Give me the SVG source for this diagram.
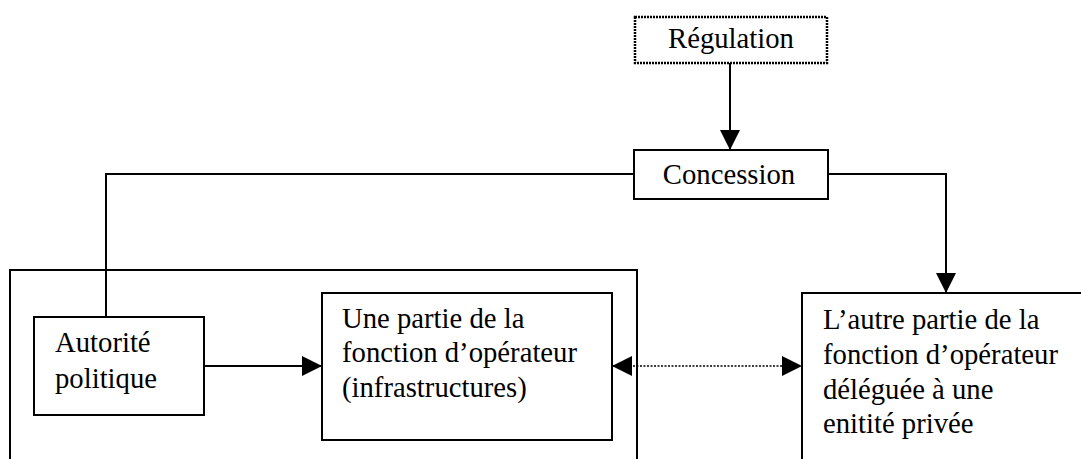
<svg xmlns="http://www.w3.org/2000/svg" width="1081" height="459" viewBox="0 0 1081 459">
<defs>
<style>
.box{fill:#fff;stroke:#000;stroke-width:2}
.dot{fill:#fff;stroke:#000;stroke-width:2.5;stroke-dasharray:2 1}
.ln{fill:none;stroke:#000;stroke-width:2}
.dl{fill:none;stroke:#000;stroke-width:1.5;stroke-dasharray:2 1.5}
text{font-family:"Liberation Serif","Times New Roman",serif;font-size:28.7px;fill:#000}
</style>
<marker id="ah" viewBox="0 0 20 20" refX="20" refY="10" markerWidth="20" markerHeight="20" markerUnits="userSpaceOnUse" orient="auto-start-reverse">
<path d="M0,0 L20,10 L0,20 Z" fill="#000"/>
</marker>
</defs>
<g id="outer"><rect x="10" y="270" width="627" height="200" style="fill:none;stroke:#000;stroke-width:2"/></g>
<g id="connectors">
<line class="ln" x1="730" y1="63" x2="730" y2="150" marker-end="url(#ah)"/>
<polyline class="ln" points="634,174 106,174 106,317"/>
<polyline class="ln" points="828,174 946,174 946,293" marker-end="url(#ah)"/>
<line class="ln" x1="204" y1="366" x2="322" y2="366" marker-end="url(#ah)"/>
<line class="dl" x1="612" y1="366" x2="802" y2="366" marker-start="url(#ah)" marker-end="url(#ah)"/>
</g>
<g id="regulation"><rect class="dot" x="635" y="17" width="192" height="46"/><text x="731" y="48" text-anchor="middle">Régulation</text></g>
<g id="concession"><rect class="box" x="634" y="150" width="194" height="49"/><text x="729" y="184" text-anchor="middle">Concession</text></g>
<g id="autorite"><rect class="box" x="34" y="317" width="170" height="98"/><text x="55" y="352">Autorité</text><text x="55" y="388">politique</text></g>
<g id="partie"><rect class="box" x="322" y="293" width="290" height="147"/><text x="342" y="328">Une partie de la</text><text x="342" y="362">fonction d’opérateur</text><text x="342" y="397">(infrastructures)</text></g>
<g id="autre"><rect class="box" x="802" y="293" width="300" height="180"/><text x="823" y="329">L’autre partie de la</text><text x="823" y="364">fonction d’opérateur</text><text x="823" y="399">déléguée à une</text><text x="823" y="433">enitité privée</text></g>
</svg>
